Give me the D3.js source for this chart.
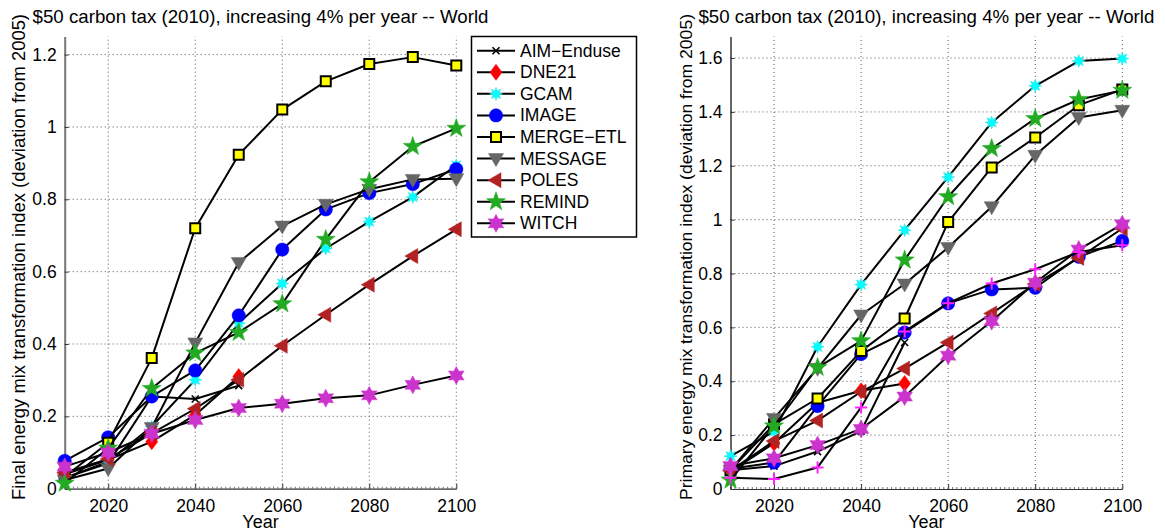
<!DOCTYPE html>
<html>
<head>
<meta charset="utf-8">
<script src="https://cdn.jsdelivr.net/npm/d3@7"></script>
<style>
  html, body { margin: 0; padding: 0; background: #fff; }
  svg { display: block; }
  text { font-family: "Liberation Sans", Arial, sans-serif; fill: #000; }
</style>
</head>
<body>
<svg id="chart" width="1165" height="531"></svg>
<script>
// ---- data ---------------------------------------------------------------
const years = [2010, 2020, 2030, 2040, 2050, 2060, 2070, 2080, 2090, 2100];
const models = ["AIM−Enduse", "DNE21", "GCAM", "IMAGE", "MERGE−ETL", "MESSAGE", "POLES", "REMIND", "WITCH"];

// Final energy mix transformation index (left panel)
const finalAIM     = [0.030, 0.070, 0.255, 0.248, 0.285];
const finalDNE21   = [0.040, 0.080, 0.130, 0.204, 0.310];
const finalGCAM    = [0.030, 0.075, 0.172, 0.301, 0.458, 0.567, 0.664, 0.738, 0.806, 0.894];
const finalIMAGE   = [0.077, 0.142, 0.255, 0.327, 0.479, 0.661, 0.772, 0.817, 0.842, 0.883];
const finalMERGE   = [0.033, 0.127, 0.361, 0.720, 0.923, 1.048, 1.126, 1.174, 1.193, 1.170];
const finalMESSAGE = [0.024, 0.056, 0.169, 0.403, 0.625, 0.726, 0.786, 0.828, 0.855, 0.857];
const finalPOLES   = [0.044, 0.082, 0.153, 0.221, 0.301, 0.395, 0.481, 0.564, 0.643, 0.717];
const finalREMIND  = [0.015, 0.112, 0.277, 0.375, 0.432, 0.511, 0.689, 0.848, 0.946, 0.996];
const finalWITCH   = [0.061, 0.100, 0.152, 0.190, 0.223, 0.235, 0.250, 0.258, 0.287, 0.313];

// Primary energy mix transformation index (right panel)
const primAIM     = [0.070, 0.085, 0.139, 0.215, 0.544];
const primDNE21   = [0.065, 0.170, 0.320, 0.365, 0.392];
const primGCAM    = [0.122, 0.213, 0.528, 0.759, 0.961, 1.158, 1.361, 1.497, 1.589, 1.598];
const primIMAGE   = [0.075, 0.098, 0.308, 0.501, 0.581, 0.689, 0.741, 0.747, 0.862, 0.921];
const primMERGE   = [0.070, 0.240, 0.336, 0.512, 0.633, 0.991, 1.194, 1.305, 1.425, 1.483];
const primMESSAGE = [0.070, 0.262, 0.448, 0.646, 0.761, 0.897, 1.048, 1.239, 1.379, 1.406];
const primPOLES   = [0.068, 0.178, 0.254, 0.361, 0.447, 0.544, 0.652, 0.761, 0.858, 0.967];
const primREMIND  = [0.033, 0.234, 0.451, 0.550, 0.850, 1.085, 1.264, 1.375, 1.446, 1.480];
const primWITCH   = [0.085, 0.114, 0.163, 0.223, 0.343, 0.495, 0.623, 0.766, 0.889, 0.983];
const primExtra   = [0.042, 0.037, 0.080, 0.303, 0.585, 0.690, 0.763, 0.816, 0.880, 0.905];

const xTicks = [2020, 2040, 2060, 2080, 2100];
const leftYTicks = [0, 0.2, 0.4, 0.6, 0.8, 1, 1.2];
const rightYTicks = [0, 0.2, 0.4, 0.6, 0.8, 1, 1.2, 1.4, 1.6];
const titleText = "$50 carbon tax (2010), increasing 4% per year -- World";

// ---- marker styles --------------------------------------------------------
function starPath(n, ro, ri, rot) {
  const pts = [];
  for (let i = 0; i < 2 * n; i++) {
    const r = i % 2 === 0 ? ro : ri;
    const a = rot + i * Math.PI / n;
    pts.push([r * Math.sin(a), -r * Math.cos(a)]);
  }
  return "M" + pts.map(p => p[0].toFixed(2) + "," + p[1].toFixed(2)).join("L") + "Z";
}
const markerStyles = {
  "AIM−Enduse": { path: "M-3.5,-3.5L3.5,3.5M-3.5,3.5L3.5,-3.5", fill: "none", stroke: "#000", sw: 1.6 },
  "DNE21":      { path: "M0,-8L6,0L0,8L-6,0Z", fill: "#ff0000", stroke: "#ff0000", sw: 0.5 },
  "GCAM":       { path: starPath(8, 6.5, 3.2, 0), fill: "#00ffff", stroke: "#2ee6e6", sw: 0.6 },
  "IMAGE":      { path: d3.symbol(d3.symbolCircle, 140)(), fill: "#0000ff", stroke: "#0000ff", sw: 0.5 },
  "MERGE−ETL":  { path: "M-5,-5L5,-5L5,5L-5,5Z", fill: "#ffff00", stroke: "#000", sw: 2 },
  "MESSAGE":    { path: "M-7.5,-5L7.5,-5L0,8Z", fill: "#666666", stroke: "#666666", sw: 0.5 },
  "POLES":      { path: "M-8,0L5,-7.5L5,7.5Z", fill: "#b22222", stroke: "#b22222", sw: 0.5 },
  "REMIND":     { path: starPath(5, 10, 4, 0), fill: "#22aa22", stroke: "#22aa22", sw: 0.5 },
  "WITCH":      { path: starPath(6, 9, 5, 0), fill: "#cc33cc", stroke: "#cc33cc", sw: 0.5 },
  "extra":      { path: "M-6,0L6,0M0,-6L0,6", fill: "none", stroke: "#ff22ff", sw: 2 }
};

const leftSeries = [
  ["AIM−Enduse", finalAIM], ["DNE21", finalDNE21], ["GCAM", finalGCAM], ["IMAGE", finalIMAGE],
  ["MERGE−ETL", finalMERGE], ["MESSAGE", finalMESSAGE], ["POLES", finalPOLES],
  ["REMIND", finalREMIND], ["WITCH", finalWITCH]
];
const rightSeries = [
  ["AIM−Enduse", primAIM], ["DNE21", primDNE21], ["GCAM", primGCAM], ["IMAGE", primIMAGE],
  ["MERGE−ETL", primMERGE], ["MESSAGE", primMESSAGE], ["POLES", primPOLES],
  ["REMIND", primREMIND], ["WITCH", primWITCH], ["extra", primExtra]
];

const svg = d3.select("#chart");

function drawMarker(g, name, x, y) {
  const s = markerStyles[name];
  g.append("path").attr("d", s.path).attr("transform", `translate(${x},${y})`)
    .attr("fill", s.fill).attr("stroke", s.stroke).attr("stroke-width", s.sw)
    .attr("stroke-linejoin", "miter");
}

function panel(opts) {
  const x = d3.scaleLinear().domain([2010, 2100]).range([opts.x0, opts.x1]);
  const y = d3.scaleLinear().domain([0, opts.ymax]).range([opts.y0, opts.y1]);
  const g = svg.append("g");

  // dotted grid
  g.append("g").selectAll("line").data(xTicks).join("line")
    .attr("x1", d => x(d)).attr("x2", d => x(d)).attr("y1", y(0)).attr("y2", opts.y1)
    .attr("stroke", "#555").attr("stroke-width", 1).attr("stroke-dasharray", "1,3");
  g.append("g").selectAll("line").data(opts.yTicks.filter(d => d > 0)).join("line")
    .attr("x1", x(2010)).attr("x2", x(2100)).attr("y1", d => y(d)).attr("y2", d => y(d))
    .attr("stroke", "#555").attr("stroke-width", 1).attr("stroke-dasharray", "1,3");

  // x axis with inward ticks and yearly minor ticks
  const xAxis = d3.axisBottom(x).tickValues(xTicks).tickFormat(d3.format("d"))
    .tickSizeInner(-5).tickSizeOuter(0).tickPadding(11);
  const xa = g.append("g").attr("transform", `translate(0,${y(0)})`).call(xAxis);
  xa.select(".domain").attr("stroke", "#333").attr("stroke-width", 1.2);
  xa.selectAll(".tick line").attr("stroke", "#333");
  xa.selectAll("text").attr("font-size", 17.5).attr("dy", "0.71em");
  g.append("g").selectAll("line").data(d3.range(2010, 2101, 1)).join("line")
    .attr("x1", d => x(d)).attr("x2", d => x(d)).attr("y1", y(0)).attr("y2", y(0) - 2)
    .attr("stroke", "#555").attr("stroke-width", 0.8);

  // y axis with inward ticks
  const yAxis = d3.axisLeft(y).tickValues(opts.yTicks).tickFormat(d => String(d))
    .tickSizeInner(-4).tickSizeOuter(0).tickPadding(8);
  const ya = g.append("g").attr("transform", `translate(${x(2010)},0)`).call(yAxis);
  ya.select(".domain").attr("stroke", opts.axisColor).attr("stroke-width", opts.axisWidth);
  ya.selectAll(".tick line").attr("stroke", "#333");
  ya.selectAll("text").attr("font-size", 17.5);

  // series: black line then coloured markers
  const line = d3.line().x((d, i) => x(years[i])).y(d => y(d));
  opts.series.forEach(([name, vals]) => {
    const sg = g.append("g");
    sg.append("path").attr("d", line(vals)).attr("fill", "none")
      .attr("stroke", "#000").attr("stroke-width", 2).attr("stroke-linejoin", "round");
    vals.forEach((v, i) => drawMarker(sg, name, x(years[i]), y(v)));
  });

  // title and axis labels
  svg.append("text").attr("x", (opts.x0 + opts.x1) / 2).attr("y", 23)
    .attr("text-anchor", "middle").attr("font-size", 19)
    .style("font-family", "'Liberation Sans Narrow', 'Liberation Sans', Arial, sans-serif")
    .attr("textLength", 456).attr("lengthAdjust", "spacingAndGlyphs")
    .text(titleText);
  svg.append("text").attr("x", (opts.x0 + opts.x1) / 2).attr("y", 528)
    .attr("text-anchor", "middle").attr("font-size", 18).text("Year");
  svg.append("text").attr("transform", `translate(${opts.labelX},500) rotate(-90)`)
    .attr("text-anchor", "start").attr("font-size", opts.labelSize)
    .attr("textLength", opts.labelLength).attr("lengthAdjust", "spacingAndGlyphs")
    .text(opts.ylabel);

  return { x, y };
}

panel({
  x0: 64.7, x1: 456.3, y0: 488.7, y1: 36.5, ymax: 1.25, yTicks: leftYTicks,
  series: leftSeries, axisColor: "#777", axisWidth: 2, labelX: 25, labelSize: 18, labelLength: 486,
  ylabel: "Final energy mix transformation index (deviation from 2005)"
});
panel({
  x0: 730.5, x1: 1122.3, y0: 489, y1: 36.5, ymax: 1.68, yTicks: rightYTicks,
  series: rightSeries, axisColor: "#000", axisWidth: 1.2, labelX: 692, labelSize: 17, labelLength: 486,
  ylabel: "Primary energy mix transformation index (deviation from 2005)"
});

// legend for the left panel
const lg = svg.append("g");
lg.append("rect").attr("x", 471.5).attr("y", 36.5).attr("width", 165).attr("height", 200.5)
  .attr("fill", "#fff").attr("stroke", "#000").attr("stroke-width", 1.5);
const ly = d3.scalePoint().domain(models).range([50.7, 223.3]);
models.forEach(name => {
  const yy = ly(name);
  lg.append("line").attr("x1", 477).attr("x2", 515).attr("y1", yy).attr("y2", yy)
    .attr("stroke", "#000").attr("stroke-width", 2);
  drawMarker(lg, name, 496, yy);
  lg.append("text").attr("x", 520).attr("y", yy + 6).attr("font-size", 17.5).text(name);
});
</script>
</body>
</html>
